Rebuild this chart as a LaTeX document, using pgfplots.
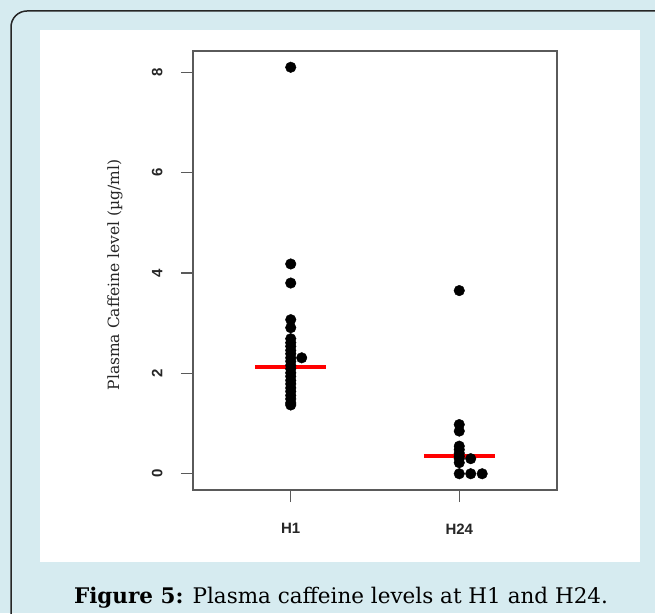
\documentclass[border=0pt]{standalone}
\usepackage{pgfplots}
\pgfplotsset{compat=1.18}
\usepackage{fontspec}
\setmainfont{DejaVu Serif}
\setsansfont{Liberation Sans}
\definecolor{bgblue}{RGB}{214,235,240}
\definecolor{boxgray}{RGB}{90,90,90}
\begin{document}
\begin{tikzpicture}
\useasboundingbox (0pt,0pt) rectangle (655pt,613pt);
\clip (0pt,0pt) rectangle (655pt,613pt);
\fill[bgblue] (0pt,0pt) rectangle (655pt,613pt);
\draw[line width=1.5pt, black!85, rounded corners=16pt] (11pt,602pt) -- (720pt,602pt) -- (720pt,-60pt) -- (11pt,-60pt) -- cycle;
\fill[white] (40pt,51pt) rectangle (640pt,583pt);
\begin{axis}[
  at={(193pt,123pt)}, anchor=south west,
  scale only axis, width=364pt, height=439pt,
  xmin=0.42, xmax=2.58, ymin=-0.324, ymax=8.424,
  xtick={1,2}, xticklabels={H1,H24},
  ytick={0,2,4,6,8},
  tick pos=left,
  tick align=outside, major tick length=12pt,
  axis line style={boxgray, line width=1.1pt},
  major tick style={boxgray, line width=1.1pt},
  /pgf/number format/assume math mode=true,
  tick label style={font=\sffamily\bfseries\fontsize{15}{15}\selectfont, text=black!85},
  yticklabel style={rotate=90, anchor=south, yshift=15pt},
  xticklabel style={yshift=-18pt},
  clip=false,
]
\addplot[only marks, mark=*, mark size=5.3pt, black] coordinates {
(1,8.1) (1,4.18) (1,3.8) (1,3.07) (1,2.91)
(1,2.69) (1,2.61) (1,2.54) (1,2.46) (1,2.39) (1,2.31) (1.065,2.31)
(1,2.24) (1,2.16) (1,2.09) (1,2.01) (1,1.94) (1,1.86) (1,1.79)
(1,1.71) (1,1.64) (1,1.56) (1,1.49) (1,1.41) (1,1.37)
};
\addplot[only marks, mark=*, mark size=5.3pt, black] coordinates {
(2,3.65) (2,0.98) (2,0.85) (2,0.55) (2,0.48) (2,0.41) (2,0.35)
(2,0.3) (2.068,0.3) (2,0.22) (2,0) (2.068,0) (2.136,0)
};
\addplot[red, line width=3.5pt] coordinates {(0.79,2.13) (1.21,2.13)};
\addplot[red, line width=3.5pt] coordinates {(1.79,0.35) (2.21,0.35)};
\pgfplotsinvokeforeach{0,2,4,6,8}{
  \draw[boxgray, line width=1.1pt] (axis cs:0.42,#1) -- (axis cs:0.349,#1);
}
\end{axis}
\node[rotate=90, font=\fontsize{15.5}{16}\selectfont, text=black!85] at (115pt,338pt) {Plasma Caffeine level (µg/ml)};
\node[font=\fontsize{21.5}{22}\selectfont] at (341pt,15pt) {\textbf{Figure 5:} Plasma caffeine levels at H1 and H24.};
\end{tikzpicture}
\end{document}
